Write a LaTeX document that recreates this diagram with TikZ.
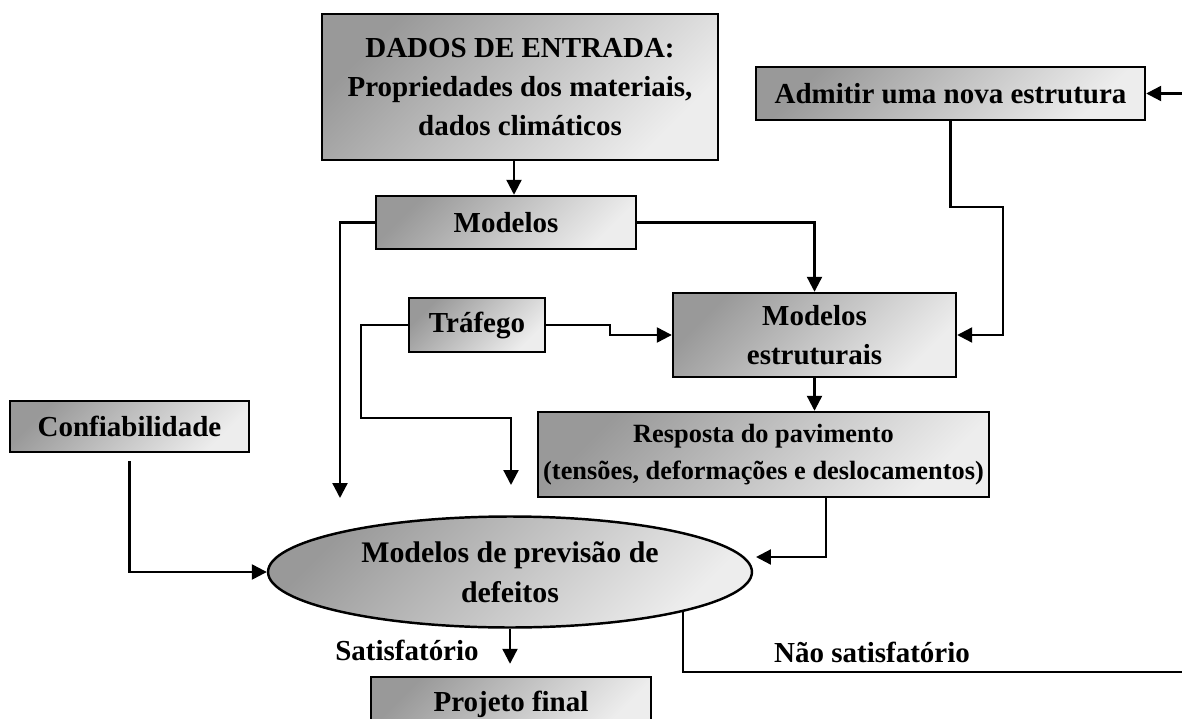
\documentclass[tikz,border=0pt]{standalone}
\usepackage{fontspec}
\setmainfont{Liberation Serif}
\usetikzlibrary{arrows.meta,shapes.geometric}

\begin{document}
\begin{tikzpicture}[x=0.02cm,y=-0.02cm,
  box/.style={draw,line width=1.4pt,top color=black!40,bottom color=black!7,shading angle=45,
    font=\fontsize{16.5}{22}\selectfont\bfseries,align=center,inner sep=0pt},
  arr/.style={-{Triangle[length=8.5pt,width=8.5pt]},line width=1.3pt},
  lbl/.style={font=\fontsize{16.5}{22}\selectfont\bfseries}]
\clip (0,0) rectangle (1182,719);

\node[box,minimum width=7.92cm,minimum height=2.92cm] (dados) at (520,87) {DADOS DE ENTRADA:\\Propriedades dos materiais,\\dados climáticos};
\node[box,minimum width=5.2cm,minimum height=1.06cm] (modelos) at (506,222.5) {Modelos};
\node[box,minimum width=7.78cm,minimum height=1.06cm] (admitir) at (950.5,93.5) {Admitir uma nova estrutura};
\node[box,minimum width=2.72cm,minimum height=1.08cm] (trafego) at (477,325) {Tráfego};
\node[box,minimum width=5.66cm,minimum height=1.68cm] (estrut) at (814.5,335) {Modelos\\estruturais};
\node[box,minimum width=9.02cm,minimum height=1.7cm,font=\fontsize{15}{21}\selectfont\bfseries] (resposta) at (763.5,454.5) {Resposta do pavimento\\(tensões, deformações e deslocamentos)};
\node[box,minimum width=4.78cm,minimum height=1.02cm] (confiab) at (129.5,426.5) {Confiabilidade};
\node[box,ellipse,minimum width=9.68cm,minimum height=2.22cm,font=\fontsize{17}{23}\selectfont\bfseries] (ell) at (510,572) {Modelos de previsão de\\defeitos};
\node[box,minimum width=5.6cm,minimum height=1.08cm] (projeto) at (511,704) {Projeto final};

\node[lbl] (sat) at (407,650) {Satisfatório};
\node[lbl] (nao) at (872,652) {Não satisfatório};

\coordinate (m1) at (340,498);
\coordinate (t1) at (511,485);
\coordinate (r1) at (756,557);
\coordinate (a1) at (1182,93.5);
\coordinate (n1) at (1182,672);

\draw[arr] ([xshift=-0.12cm]dados.south) -- ([xshift=-0.12cm]dados.south |- modelos.north);
\draw[arr] (modelos.west) -| (m1);
\draw[arr] (modelos.east) -| (estrut.north);
\draw[arr] (trafego.east) -- ++(64,0) |- (estrut.west);
\draw[arr] (trafego.west) -| (361,418) -| (t1);
\draw[arr] (admitir.south) |- (1003,207) |- (estrut.east);
\draw[arr] (a1) -- (admitir.east);
\draw[arr] (estrut.south) -- (estrut.south |- resposta.north);
\draw[arr] ([xshift=1.25cm]resposta.south) |- (r1);
\draw[arr,shorten <=0.16cm] (confiab.south) |- (ell.west);
\draw[arr,shorten >=0.24cm] (ell.south) -- (ell.south |- projeto.north);
\draw[line width=1.3pt] (ell.-13.3) |- (n1);

\end{tikzpicture}
\end{document}
